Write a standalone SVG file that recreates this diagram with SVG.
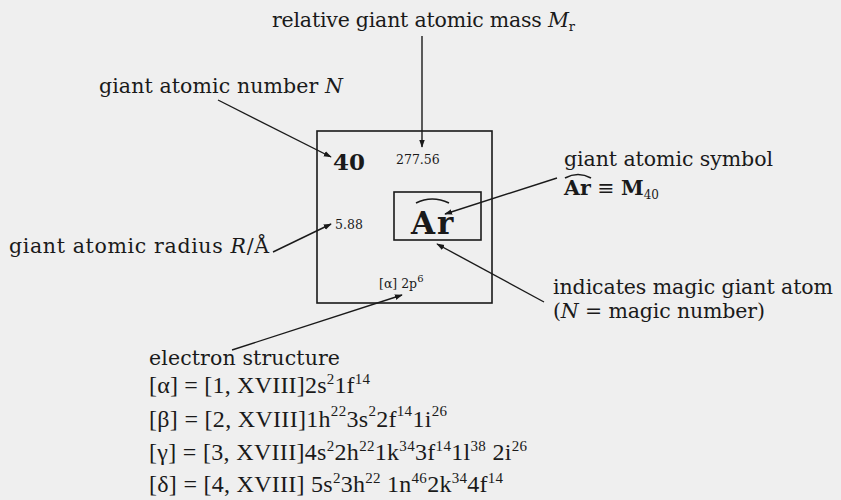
<svg xmlns="http://www.w3.org/2000/svg" width="841" height="500" viewBox="0 0 841 500">
<defs>
<marker id="ah" viewBox="0 0 10 10" refX="9" refY="5" markerWidth="8" markerHeight="8" markerUnits="userSpaceOnUse" orient="auto">
<path d="M0,1.5 L10,5 L0,8.5 Z" fill="#1a1a1a"/>
</marker>
<style>
.t{font-family:"DejaVu Serif","Liberation Serif",serif;font-size:20.5px;fill:#1a1a1a}
.e{font-family:"Liberation Serif","Times New Roman",serif;font-size:24px;fill:#1a1a1a}
.s{font-family:"DejaVu Serif","Liberation Serif",serif;font-size:12.5px;fill:#1a1a1a}
.box{fill:none;stroke:#1a1a1a;stroke-width:1.6}
.c{stroke:#1a1a1a;stroke-width:1.4;fill:none;marker-end:url(#ah)}
.hat{stroke:#1a1a1a;stroke-width:1.6;fill:none}
</style>
</defs>
<rect width="841" height="500" fill="#efefef"/>

<g id="connectors">
<line class="c" x1="422" y1="36" x2="422" y2="147"/>
<line class="c" x1="218" y1="100" x2="331" y2="157"/>
<line class="c" x1="273" y1="252" x2="331" y2="224"/>
<line class="c" x1="557" y1="178" x2="445" y2="214"/>
<line class="c" x1="544" y1="302" x2="437" y2="244"/>
<line class="c" x1="232" y1="350" x2="402" y2="295"/>
</g>

<g id="element-cell">
<rect class="box" x="317" y="131" width="175" height="172"/>
<text x="333" y="170" font-family="'DejaVu Serif',serif" font-weight="bold" font-size="23" fill="#1a1a1a">40</text>
<text class="s" x="396" y="164">277.56</text>
<text class="s" x="335" y="229">5.88</text>
<text class="s" x="379" y="288" font-size="14">[α] 2p<tspan font-size="10" dy="-6">6</tspan></text>
</g>

<g id="symbol-box">
<rect class="box" x="394" y="192" width="87" height="48"/>
<text x="411" y="234" font-family="'DejaVu Serif',serif" font-weight="bold" font-size="31" letter-spacing="2" fill="#1a1a1a">Ar</text>
<path class="hat" d="M416 203 Q432 195 449 203"/>
</g>

<g id="label-mass">
<text class="t" x="272" y="27" textLength="303">relative giant atomic mass <tspan font-style="italic">M</tspan><tspan font-size="13" dy="4">r</tspan></text>
</g>

<g id="label-number">
<text class="t" x="99" y="93" textLength="244">giant atomic number  <tspan font-style="italic">N</tspan></text>
</g>

<g id="label-symbol">
<text class="t" x="564" y="166" textLength="209">giant atomic symbol</text>
<text class="t" x="564" y="195"><tspan font-weight="bold">Ar</tspan> ≡ <tspan font-weight="bold">M</tspan><tspan font-size="12" dy="4">40</tspan></text>
<path class="hat" d="M565 178 Q578 171 591 178"/>
</g>

<g id="label-radius">
<text class="t" x="9" y="253" textLength="260">giant atomic radius  <tspan font-style="italic">R</tspan>/Å</text>
</g>

<g id="label-magic">
<text class="t" x="553" y="294" textLength="280">indicates magic giant atom</text>
<text class="t" x="553" y="318" textLength="212">(<tspan font-style="italic">N</tspan> = magic number)</text>
</g>

<g id="label-electron">
<text class="t" x="149" y="365" textLength="191">electron structure</text>
<text class="e" x="149" y="393" textLength="221">[α] = [1, XVIII]2s<tspan font-size="15" dy="-9">2</tspan><tspan dy="9">1f</tspan><tspan font-size="15" dy="-9">14</tspan></text>
<text class="e" x="149" y="427" textLength="298">[β] = [2, XVIII]1h<tspan font-size="15" dy="-11">22</tspan><tspan dy="11">3s</tspan><tspan font-size="15" dy="-11">2</tspan><tspan dy="11">2f</tspan><tspan font-size="15" dy="-11">14</tspan><tspan dy="11">1i</tspan><tspan font-size="15" dy="-11">26</tspan></text>
<text class="e" x="149" y="460" textLength="378">[γ]  = [3, XVIII]4s<tspan font-size="15" dy="-9">2</tspan><tspan dy="9">2h</tspan><tspan font-size="15" dy="-9">22</tspan><tspan dy="9">1k</tspan><tspan font-size="15" dy="-9">34</tspan><tspan dy="9">3f</tspan><tspan font-size="15" dy="-9">14</tspan><tspan dy="9">1l</tspan><tspan font-size="15" dy="-9">38</tspan><tspan dy="9"> 2i</tspan><tspan font-size="15" dy="-9">26</tspan></text>
<text class="e" x="149" y="492" textLength="354">[δ]  = [4, XVIII] 5s<tspan font-size="15" dy="-9">2</tspan><tspan dy="9">3h</tspan><tspan font-size="15" dy="-9">22</tspan><tspan dy="9"> 1n</tspan><tspan font-size="15" dy="-9">46</tspan><tspan dy="9">2k</tspan><tspan font-size="15" dy="-9">34</tspan><tspan dy="9">4f</tspan><tspan font-size="15" dy="-9">14</tspan></text>
</g>
</svg>
